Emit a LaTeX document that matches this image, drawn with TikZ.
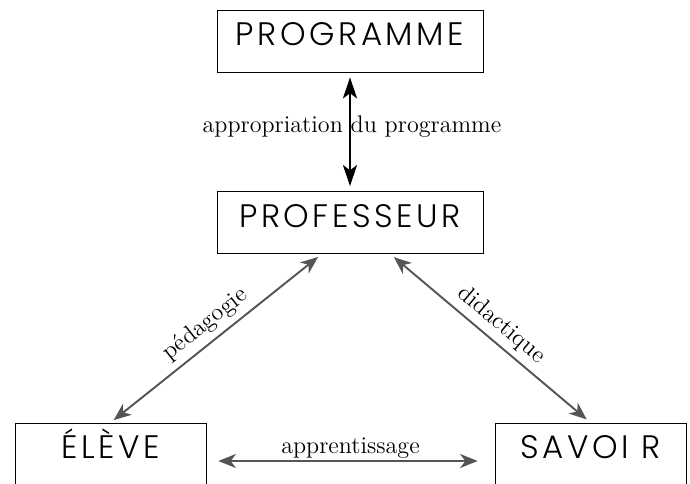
\documentclass[tikz,border=0pt]{standalone}
\usepackage{fontspec}
\newfontfamily\boxfont{Poppins Light}[LetterSpace=11]
\usetikzlibrary{arrows.meta}
\definecolor{linkgray}{HTML}{555555}

\begin{document}
\begin{tikzpicture}[
  pole/.style={draw,thin,inner sep=0pt,minimum height=1.24cm,text height=13pt,text depth=7.4pt,font=\boxfont\fontsize{18.5}{21}\selectfont},
  link/.style={{Stealth[length=10pt,width=8pt,inset=3pt]}-{Stealth[length=10pt,width=8pt,inset=3pt]},line width=1.1pt,linkgray},
  lbl/.style={font=\fontsize{13.7}{16}\selectfont,text=black}
]
\clip (0,0) rectangle (13.8,9.66);
\node[pole,minimum width=5.32cm] (prog) at (7,8.84) {PROGRAMME};
\node[pole,minimum width=5.32cm] (prof) at (7,5.21) {PROFESSEUR};
\node[pole,minimum width=3.82cm] (eleve) at (2.21,0.58) {ÉLÈVE};
\node[pole,minimum width=3.82cm] (savoir) at (11.81,0.58) {SAVOI R};

\draw[{Stealth[length=12pt,width=8pt,inset=3pt]}-{Stealth[length=12pt,width=8pt,inset=3pt]},line width=1.4pt,shorten <=0.1cm,shorten >=0.1cm] (prog.south) -- node[lbl,midway,xshift=0.04cm,yshift=0.11cm] {appropriation du programme} (prof.north);
\draw[link,shorten <=0.08cm,shorten >=0.1cm] (eleve.north) -- node[lbl,midway,sloped,above] {pédagogie} ([xshift=-0.56cm]prof.south);
\draw[link,shorten <=0.1cm,shorten >=0.1cm] ([xshift=0.8cm]prof.south) -- node[lbl,midway,sloped,above] {didactique} (savoir.north);
\draw[link,shorten <=0.24cm,shorten >=0.34cm] ([yshift=-0.14cm]eleve.east) -- node[lbl,midway,above,inner sep=1pt] {apprentissage} ([yshift=-0.14cm]savoir.west);
\end{tikzpicture}
\end{document}
